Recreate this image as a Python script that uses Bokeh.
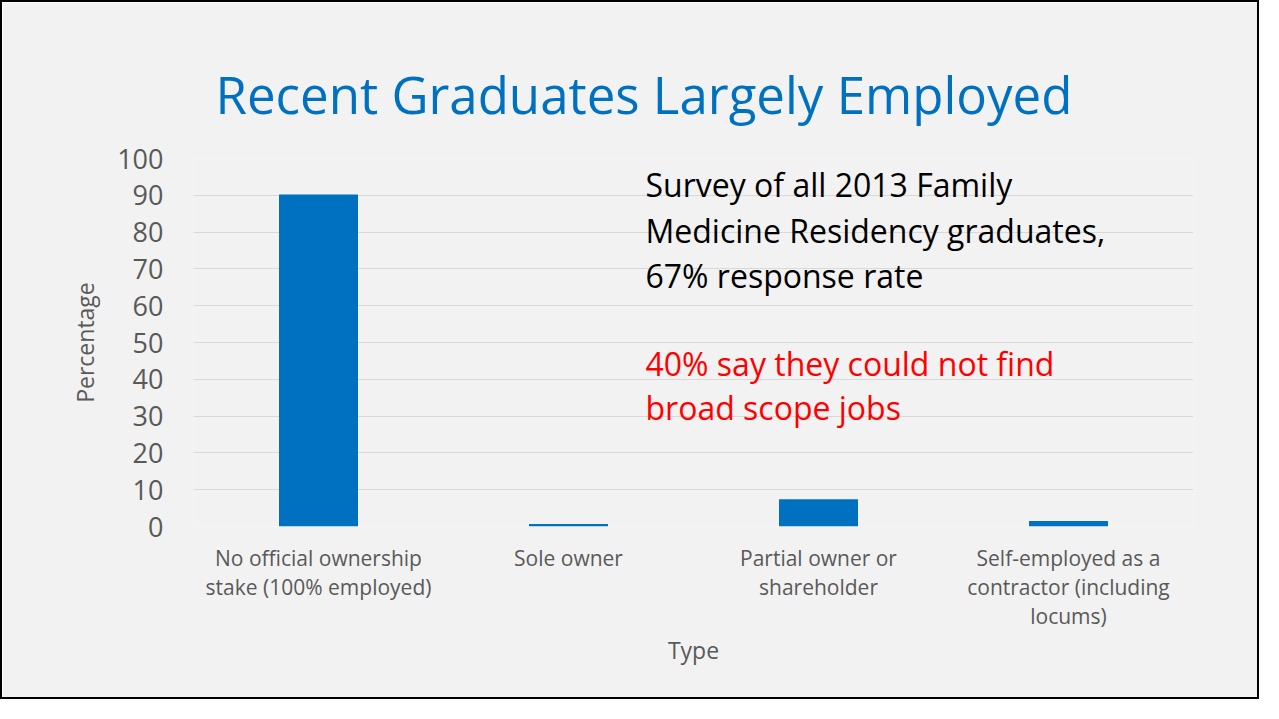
from bokeh.plotting import figure
from bokeh.models import ColumnDataSource, Label, FactorRange, Range1d, Title
from bokeh.embed import file_html
from bokeh.resources import INLINE

categories = ["No official ownership\nstake (100% employed)",
              "Sole owner",
              "Partial owner or\nshareholder",
              "Self-employed as a\ncontractor (including\nlocums)"]
values = [90.2, 0.7, 7.4, 1.5]
y_ticks = [0, 10, 20, 30, 40, 50, 60, 70, 80, 90, 100]

title_text = "Recent Graduates Largely Employed"
note_black = ["Survey of all 2013 Family", "Medicine Residency graduates,", "67% response rate"]
note_red = ["40% say they could not find", "broad scope jobs"]

FONT = "Open Sans"
BG = "#f2f2f2"
BLUE = "#0070c0"

p = figure(width=1259, height=699, x_range=FactorRange(*categories, range_padding=0),
           y_range=Range1d(0, 100), output_backend="svg", toolbar_location=None,
           min_border_left=191, min_border_right=68, min_border_top=156, min_border_bottom=175)
p.background_fill_color = BG
p.border_fill_color = BG
p.outline_line_color = None
p.styles = {"border": "2px solid black"}

p.add_layout(Title(text=title_text, align="left", offset=22, standoff=59,
                   text_font=FONT, text_font_size="51px", text_font_style="normal",
                   text_color=BLUE), "above")

src = ColumnDataSource(dict(cat=categories, val=values))
p.vbar(x="cat", top="val", width=0.316, source=src, fill_color=BLUE, line_color=None)

p.ygrid.grid_line_color = "#d9d9d9"
p.ygrid.grid_line_width = 1
p.xgrid.grid_line_color = None
p.yaxis.ticker = y_ticks

for ax in (p.xaxis[0], p.yaxis[0]):
    ax.axis_line_color = None
    ax.major_tick_line_color = None
    ax.minor_tick_line_color = None
    ax.major_label_text_font = FONT
    ax.major_label_text_color = "#595959"
    ax.axis_label_text_font = FONT
    ax.axis_label_text_color = "#595959"
    ax.axis_label_text_font_style = "normal"

p.yaxis.major_label_text_font_size = "27px"
p.yaxis.major_label_standoff = 24
p.yaxis.axis_label = "Percentage"
p.yaxis.axis_label_text_font_size = "23px"
p.yaxis.axis_label_standoff = 13

p.xaxis.major_label_text_font_size = "21px"
p.xaxis.major_label_text_line_height = 1.05
p.xaxis.major_label_standoff = 11
p.xaxis.axis_label = "Type"
p.xaxis.axis_label_text_font_size = "23px"
p.xaxis.axis_label_standoff = 1

ys_black = [92.93, 80.43, 68.21]
for t, yy in zip(note_black, ys_black):
    p.add_layout(Label(x=1.808, y=yy, text=t, text_font=FONT, text_font_size="32px",
                       text_color="black", text_baseline="alphabetic"))
ys_red = [44.29, 32.34]
for t, yy in zip(note_red, ys_red):
    p.add_layout(Label(x=1.808, y=yy, text=t, text_font=FONT, text_font_size="32px",
                       text_color="#ff0000", text_baseline="alphabetic"))

open("out.html", "w").write(file_html(p, INLINE))
